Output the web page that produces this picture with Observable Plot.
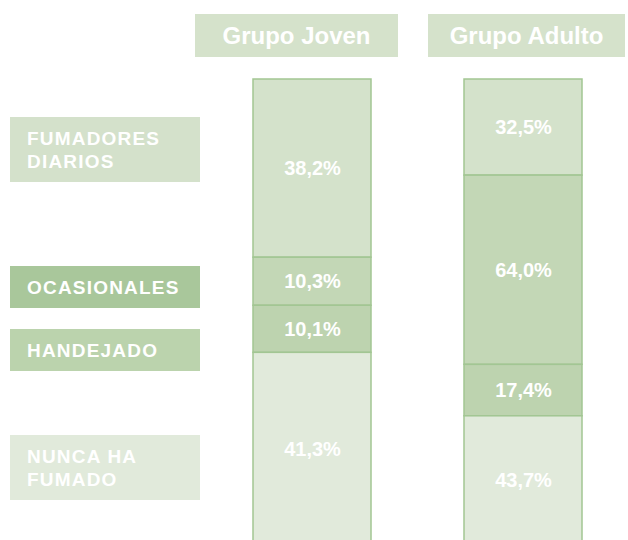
<!DOCTYPE html>
<html>
<head>
<meta charset="utf-8">
<script src="https://cdn.jsdelivr.net/npm/d3@7"></script>
<script src="https://cdn.jsdelivr.net/npm/@observablehq/plot@0.6"></script>
<style>
  html, body { margin: 0; padding: 0; background: #ffffff; }
  #wrap { position: relative; width: 628px; height: 540px; overflow: hidden; font-family: "Liberation Sans", Arial, sans-serif; }
  #chart { position: absolute; left: 0; top: 0; }
  .hdr { position: absolute; top: 14px; height: 43px; background: #d5e2cb; color: #ffffff;
         font-weight: bold; font-size: 24px; display: flex; align-items: center; justify-content: center; }
  .lab { position: absolute; left: 10px; width: 173px; padding-left: 17px; color: #ffffff; font-weight: bold;
         font-size: 19px; letter-spacing: 1.2px; line-height: 23px; display: flex; align-items: center; }
</style>
</head>
<body>
<div id="wrap"><div id="chart"></div></div>
<script>
const groups = ["Grupo Joven", "Grupo Adulto"];
const categories = ["FUMADORES DIARIOS", "OCASIONALES", "HANDEJADO", "NUNCA HA FUMADO"];
const categoryLines = [["FUMADORES", "DIARIOS"], ["OCASIONALES"], ["HANDEJADO"], ["NUNCA HA", "FUMADO"]];
const joven = [38.2, 10.3, 10.1, 41.3];
const adulto = [32.5, 64.0, 17.4, 43.7];

const segColors = ["#d4e2cb", "#c3d7b6", "#bdd3af", "#e1eadb"];
const labColors = ["#d4e1cb", "#a9c79b", "#bbd3ad", "#e1eadb"];

const rows = [];
[joven, adulto].forEach((vals, gi) => {
  vals.forEach((v, ci) => rows.push({group: groups[gi], cat: categories[ci], value: v}));
});
const fmt = v => v.toFixed(1).replace(".", ",") + "%";

const chart = Plot.plot({
  width: 628,
  height: 540,
  margin: 0,
  x: {domain: groups, range: [252, 582], paddingInner: 0.442, paddingOuter: 0, axis: null},
  y: {domain: [0, 1], range: [545, 79], axis: null},
  color: {domain: categories, range: segColors},
  style: {background: "transparent"},
  marks: [
    Plot.barY(rows, Plot.stackY({x: "group", y: "value", z: "cat", fill: "cat", offset: "normalize", reverse: true,
      stroke: "#a2c693", strokeWidth: 1.5})),
    Plot.text(rows, Plot.stackY({x: "group", y: "value", z: "cat", offset: "normalize", reverse: true,
      text: d => fmt(d.value), fill: "#ffffff", fontSize: 20, fontWeight: "bold",
      fontFamily: "Liberation Sans, Arial, sans-serif"}))
  ]
});
document.getElementById("chart").appendChild(chart);

const wrap = document.getElementById("wrap");
const hdrBoxes = [{left: 195, width: 203}, {left: 428, width: 197}];
groups.forEach((g, i) => {
  const d = document.createElement("div");
  d.className = "hdr";
  d.style.left = hdrBoxes[i].left + "px";
  d.style.width = hdrBoxes[i].width + "px";
  d.textContent = g;
  wrap.appendChild(d);
});
const labBoxes = [{top: 117, h: 65}, {top: 266, h: 42}, {top: 329, h: 42}, {top: 435, h: 65}];
categoryLines.forEach((lines, i) => {
  const d = document.createElement("div");
  d.className = "lab";
  d.style.top = labBoxes[i].top + "px";
  d.style.height = labBoxes[i].h + "px";
  d.style.background = labColors[i];
  d.innerHTML = lines.join("<br>");
  wrap.appendChild(d);
});
</script>
</body>
</html>
